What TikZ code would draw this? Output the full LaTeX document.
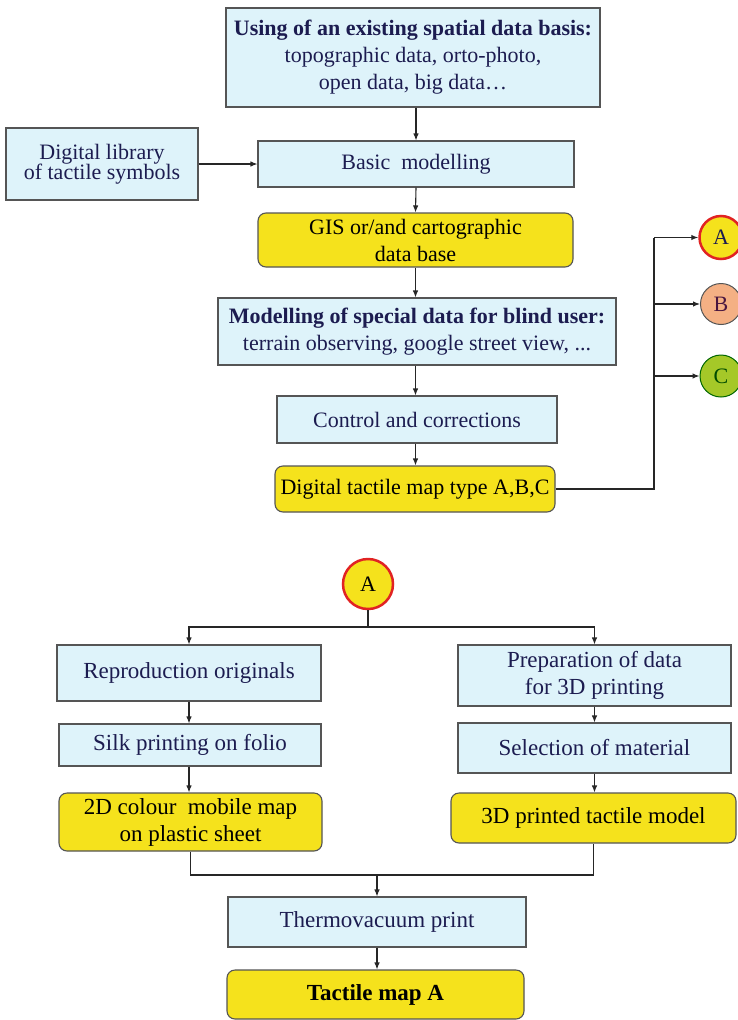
\documentclass[tikz,border=0pt]{standalone}
\usepackage{fontspec}
\setmainfont{Liberation Serif}
\usetikzlibrary{arrows.meta}
\definecolor{lblue}{RGB}{222,243,250}
\definecolor{yel}{RGB}{245,226,28}
\definecolor{navy}{RGB}{28,28,80}
\definecolor{bord}{RGB}{85,85,85}
\definecolor{peach}{RGB}{244,176,132}
\definecolor{lime}{RGB}{165,200,40}
\definecolor{redb}{RGB}{225,35,35}
\tikzset{
  bluebox/.style={draw=bord, line width=1.1pt, fill=lblue, text=navy, align=center, inner sep=0pt, font=\fontsize{22}{27}\selectfont},
  yelbox/.style={draw=bord, line width=1.1pt, fill=yel, text=black, align=center, inner sep=0pt, rounded corners=8pt, font=\fontsize{22}{27}\selectfont},
  lower/.style={font=\fontsize{23}{27}\selectfont},
  circ/.style={circle, minimum size=#1, inner sep=0pt, font=\fontsize{22}{24}\selectfont},
  arr/.style={draw=black!85, line width=1.1pt, -{Latex[length=7pt,width=5.5pt]}},
  ln/.style={draw=black!85, line width=1.1pt}
}
\begin{document}
\begin{tikzpicture}[x=1pt,y=-1pt]
\useasboundingbox[fill=white] (0,0) rectangle (737,1020);
% upper part
\node[bluebox, minimum width=374pt, minimum height=99pt] (top) at (413,57.5)
  {\textbf{Using of an existing spatial data basis:}\\topographic data, orto-photo,\\open data, big data\ldots};
\node[bluebox, minimum width=192pt, minimum height=72pt, font=\fontsize{22}{20.5}\selectfont] (lib) at (102,164)
  {Digital library\\of tactile symbols};
\node[bluebox, minimum width=316pt, minimum height=46pt] (basic) at (416,164) {Basic\ \ modelling};
\node[yelbox, minimum width=315pt, minimum height=54pt] (gis) at (415.5,240) {GIS or/and cartographic\\data base};
\node[bluebox, minimum width=398pt, minimum height=67pt] (special) at (417,331.5)
  {\textbf{Modelling of special data for blind user:}\\terrain observing, google street view, ...};
\node[bluebox, minimum width=280pt, minimum height=47pt] (control) at (417,419.5) {Control and corrections};
\node[yelbox, minimum width=280pt, minimum height=46pt] (dtm) at (415,489) {Digital tactile map type A,B,C};
\node[circ=43pt, draw=redb, line width=2.5pt, fill=yel, text=navy] (A1) at (721,237.5) {A};
\node[circ=41pt, draw=bord, line width=1pt, fill=peach, text=navy!80!red] (B) at (721,304) {B};
\node[circ=42pt, draw=black!60!green, line width=1pt, fill=lime, text=black!70!green] (C) at (721,376) {C};
\coordinate (br) at (654,489);
\draw[arr] (basic.north |- top.south) -- (basic.north);
\draw[arr] (lib.east) -- (lib.east -| basic.west);
\draw[arr] (basic.south) -- (gis.north);
\draw[arr] (gis.south) -- (gis.south |- special.north);
\draw[arr] (gis.south |- special.south) -- (gis.south |- control.north);
\draw[arr] (gis.south |- control.south) -- (gis.south |- dtm.north);
\draw[ln] (dtm.east) -- (br) -- (br |- A1);
\draw[arr] (br |- A1) -- (A1.west);
\draw[arr] (br |- B) -- (B.west);
\draw[arr] (br |- C) -- (C.west);
% lower part
\node[circ=50pt, draw=redb, line width=2.5pt, fill=yel, text=black] (A2) at (368,584) {A};
\coordinate (split) at (368,627);
\node[bluebox, lower, minimum width=264pt, minimum height=56pt] (repro) at (189,673) {Reproduction originals};
\node[bluebox, lower, minimum width=262pt, minimum height=42pt] (silk) at (190,745) {Silk printing on folio};
\node[yelbox, lower, minimum width=263pt, minimum height=58pt] (twoD) at (190.5,822) {2D colour\ \ mobile map\\on plastic sheet};
\node[bluebox, lower, minimum width=273pt, minimum height=61pt] (prep) at (594.5,675.5) {Preparation of data\\for 3D printing};
\node[bluebox, lower, minimum width=273pt, minimum height=50pt] (sel) at (594.5,748) {Selection of material};
\node[yelbox, lower, minimum width=285pt, minimum height=50pt] (threeD) at (593.5,818) {3D printed tactile model};
\coordinate (merge) at (377,875);
\node[bluebox, lower, minimum width=298pt, minimum height=50pt] (thermo) at (377,922) {Thermovacuum print};
\node[yelbox, lower, minimum width=297pt, minimum height=49pt] (tact) at (375.5,994.5) {\textbf{Tactile map A}};
\draw[ln] (A2.south) -- (split);
\draw[arr] (split) -| (repro.north);
\draw[arr] (split) -| (prep.north);
\draw[arr] (repro.south) -- (repro.south |- silk.north);
\draw[arr] (repro.south |- silk.south) -- (repro.south |- twoD.north);
\draw[arr] (prep.south) -- (sel.north);
\draw[arr] (sel.south) -- (sel.south |- threeD.north);
\draw[ln] (twoD.south) |- (merge) -| (threeD.south);
\draw[arr] (merge) -- (merge |- thermo.north);
\draw[arr] (merge |- thermo.south) -- (merge |- tact.north);
\end{tikzpicture}
\end{document}
